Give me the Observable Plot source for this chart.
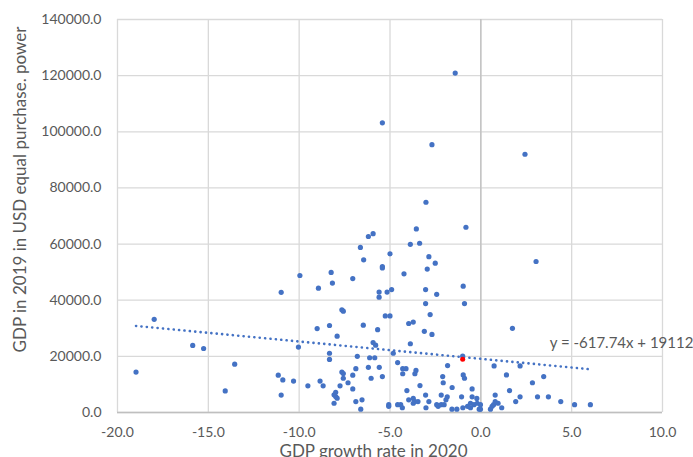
<!DOCTYPE html>
<html>
<head>
<meta charset="utf-8">
<script src="https://cdn.jsdelivr.net/npm/d3@7"></script>
<script src="https://cdn.jsdelivr.net/npm/@observablehq/plot@0.6"></script>
<style>
  body { margin: 0; background: #fff; }
  #chart svg { display: block; }
</style>
</head>
<body>
<div id="chart"></div>
<script>
// GDP growth rate in 2020 (%)
const growth2020 = [
  -18.98,-17.98,-15.86,-15.26,-13.55,-14.07,-10.99,-9.96,-10.04,-11.15,
  -10.9,-10.31,-10.99,-9.52,-8.94,-9.01,-8.85,-8.68,-8.24,-8.17,
  -8.33,-7.91,-8.33,-8.33,-7.65,-7.57,-7.65,-7.57,-7.57,-7.31,
  -7.75,-7.99,-8.08,-7.99,-7.91,-8.08,-7.05,-6.88,-7.05,-7.05,
  -6.88,-6.54,-6.61,-6.19,-5.93,-6.63,-6.45,-6.47,-6.8,-6.12,
  -5.84,-6.19,-5.59,-6.04,-5.42,-5.42,-5.0,-5.42,-5.42,-4.91,
  -5.16,-5.6,-5.6,-5.26,-5.0,-5.68,-5.93,-5.79,-4.82,-5.07,
  -5.07,-4.58,-4.3,-4.12,-4.3,-3.57,-3.63,-4.07,-3.35,-4.58,
  -4.41,-4.32,-3.97,-3.72,-3.63,-3.72,-3.46,-2.86,-3.02,-3.04,
  -4.23,-3.88,-3.37,-3.55,-3.02,-2.69,-1.41,-2.86,-2.51,-2.95,
  -3.04,-2.43,-3.04,-2.79,-3.97,-3.72,-3.11,-2.69,-3.88,-1.83,
  -2.1,-2.07,-1.58,-2.18,-1.85,-1.92,-2.43,-2.35,-2.18,-2.02,
  -1.59,-1.32,-0.82,-0.97,-0.9,-1.0,-0.97,-0.9,-0.48,-1.06,
  -0.48,-0.22,-0.99,-0.73,-0.57,-0.57,-0.38,-0.2,-0.02,-0.09,
  -0.02,0.73,2.16,1.41,3.46,2.84,1.58,0.79,2.16,3.12,
  3.72,1.92,4.4,5.16,6.03,0.53,0.62,0.7,0.79,0.95,
  1.15,1.74,3.04,2.43
];
// GDP in 2019 in USD, equal purchasing power
const gdp2019 = [
  14400,33200,23900,22800,17200,7700,42800,48800,23300,13300,
  11600,11200,6200,9500,44300,29900,11200,9500,49900,46100,
  31000,27200,21100,18900,36600,36100,14400,13900,12200,10600,
  9500,7200,6300,5700,5100,3300,47700,15600,13300,8400,
  3900,4500,1200,62700,63700,58800,54400,31100,20000,19500,
  19500,16100,16100,12200,12800,103200,56500,52000,51500,43800,
  42900,42900,41100,34400,34400,29500,24900,24000,21100,2800,
  2200,17800,15600,15600,13800,15000,13800,7800,9600,2800,
  2800,1700,4500,5000,3900,3300,3900,3900,1700,6200,
  49400,59900,60300,65400,74900,95400,120900,55500,53200,51100,
  43800,42100,38800,34900,31700,32200,28900,27800,24500,16700,
  12800,10600,8900,6200,5600,4500,2800,2200,2800,2800,
  1200,1200,66000,45000,38800,20100,13400,12200,8400,5600,
  5600,5000,1700,2200,3300,1700,2800,3300,2800,1200,
  1200,16600,16600,13400,12800,10600,7800,6200,5600,5600,
  5600,3900,3900,2800,2800,1200,2200,2800,3900,3300,
  1700,30000,53800,92000
];
// highlighted observation (red)
const highlightGrowth = [-1.0];
const highlightGdp = [19000];

// linear trendline
const trendSlope = -617.74;
const trendIntercept = 19112;
const trendLabel = "y = -617.74x + 19112";

const xTicks = [-20, -15, -10, -5, 0, 5, 10];
const yTicks = [0, 20000, 40000, 60000, 80000, 100000, 120000, 140000];
const xTitle = "GDP growth rate in 2020";
const yTitle = "GDP in 2019 in USD equal purchase. power";

const points = growth2020.map((x, i) => ({x, y: gdp2019[i]}));
const highlight = highlightGrowth.map((x, i) => ({x, y: highlightGdp[i]}));
const [xMin, xMax] = d3.extent(growth2020);
const trend = [xMin, xMax].map(x => ({x, y: trendSlope * x + trendIntercept}));
const trendEnd = [{x: xMax, y: trendSlope * xMax + trendIntercept, label: trendLabel}];

const textColor = "#595959";
const gridColor = "#d9d9d9";
const blue = "#4472C4";

const chart = Plot.plot({
  width: 693,
  height: 457,
  marginLeft: 117,
  marginRight: 31,
  marginTop: 19,
  marginBottom: 45,
  style: {fontFamily: "Lato, 'Liberation Sans', sans-serif", fontSize: "14px", color: textColor, background: "#fff", overflow: "hidden"},
  x: {domain: [-20, 10]},
  y: {domain: [0, 140000]},
  marks: [
    Plot.gridX(xTicks, {stroke: gridColor, strokeOpacity: 1, strokeWidth: 1.3}),
    Plot.gridY(yTicks, {stroke: gridColor, strokeOpacity: 1, strokeWidth: 1.3}),
    Plot.ruleX([0], {stroke: "#bfbfbf", strokeWidth: 1.3}),
    Plot.ruleY([0], {stroke: "#bfbfbf", strokeWidth: 1.3}),
    Plot.axisX(xTicks, {tickSize: 0, tickPadding: 14.5, tickFormat: d => d.toFixed(1), label: null, fill: textColor}),
    Plot.axisY(yTicks, {tickSize: 0, tickPadding: 16, tickFormat: d => d.toFixed(1), label: null, fill: textColor}),
    Plot.line(trend, {x: "x", y: "y", stroke: blue, strokeWidth: 2.6, strokeDasharray: "0.1 5.3", strokeLinecap: "round"}),
    Plot.dot(points, {x: "x", y: "y", r: 2.6, fill: blue, stroke: "none"}),
    Plot.dot(highlight, {x: "x", y: "y", r: 2.5, fill: "#FF0000", stroke: "none"}),
    Plot.text(trendEnd, {x: "x", y: "y", text: "label", textAnchor: "start", dx: -40.7, dy: -26, fontSize: 15, fill: textColor}),
    Plot.text([xTitle], {frameAnchor: "bottom", textAnchor: "middle", lineAnchor: "middle", dx: -16.5, dy: 38.6, fontSize: 17, fill: textColor}),
    Plot.text([yTitle], {frameAnchor: "left", textAnchor: "middle", lineAnchor: "middle", rotate: -90, dx: -97.4, dy: -26.5, fontSize: 17, fill: textColor})
  ]
});
document.getElementById("chart").appendChild(chart);
</script>
</body>
</html>
